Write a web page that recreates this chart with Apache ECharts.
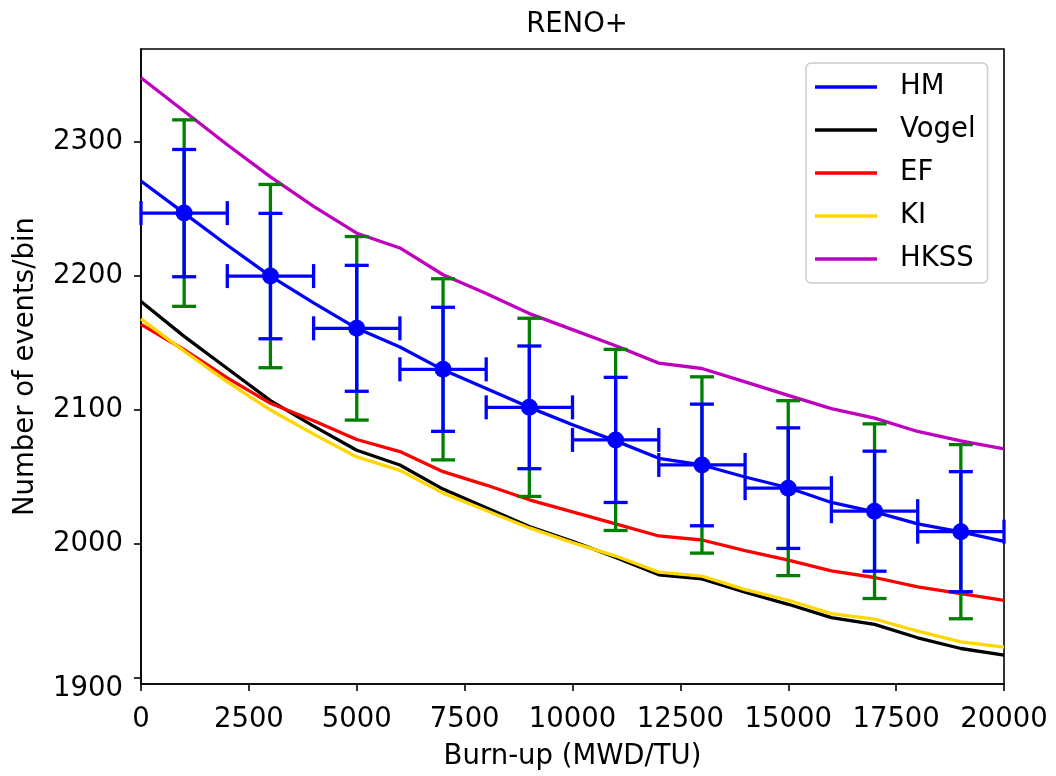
<!DOCTYPE html>
<html>
<head>
<meta charset="utf-8">
<script src="https://cdn.jsdelivr.net/npm/echarts@6/dist/echarts.min.js"></script>
<style>
html,body{margin:0;padding:0;background:#fff;}
#main{width:1056px;height:776px;}
</style>
</head>
<body>
<div id="main"></div>
<script>
// ---- data ----
var burnup = [0,1000,2000,3000,4000,5000,6000,7000,8000,9000,10000,11000,12000,13000,14000,15000,16000,17000,18000,19000,20000];
var hm    = [2271,2247,2223,2200,2180,2161,2147,2130,2116,2102,2089,2077,2064,2059,2050,2042,2031,2024,2015,2009,2002];
var vogel = [2181,2155,2131,2107,2088,2070,2059,2041,2027,2013,2002,1990,1977,1974,1964,1955,1945,1940,1930,1922,1917];
var ef    = [2164,2145,2124,2105,2092,2078,2069,2054,2044,2033,2024,2015,2006,2003,1995,1988,1980,1975,1968,1963,1958];
var ki    = [2168,2144,2121,2100,2082,2065,2055,2038,2025,2012,2001,1991,1979,1976,1966,1958,1948,1944,1935,1927,1923];
var hkss  = [2348,2323,2298,2274,2252,2232,2221,2201,2187,2172,2160,2148,2135,2131,2121,2111,2101,2094,2084,2077,2071];

var binCenters = [1000,3000,5000,7000,9000,11000,13000,15000,17000,19000];
var binHalfWidth = [1000,1000,1000,1000,1000,1000,1000,1000,1000,1000];
var measured  = [2247,2200,2161,2130.4,2102,2077.7,2059,2041.7,2024.5,2009.2];
var statErr   = [47.5,46.8,47.0,46.3,45.8,46.7,45.4,45.0,44.8,44.8];
var totalErr  = [69.6,68.4,68.5,67.6,66.5,67.6,65.8,65.3,65.2,65.0];

var xTicks = [0,2500,5000,7500,10000,12500,15000,17500,20000];
var yTicks = [1900,2000,2100,2200,2300];

var seriesNames = ['HM','Vogel','EF','KI','HKSS'];
var seriesColors = ['#0000ff','#000000','#ff0000','#ffd700','#bf00bf'];
var seriesValues = [hm, vogel, ef, ki, hkss];

// ---- chart ----
var FONT = 'DejaVu Sans';
var FS = 27.5;
var LW = 3.3;
var chart = echarts.init(document.getElementById('main'), null, {renderer:'canvas'});

function pairs(arr){ return burnup.map(function(x,i){ return [x, arr[i]]; }); }

var errData = binCenters.map(function(x,i){ return [x, measured[i], statErr[i], totalErr[i], binHalfWidth[i]]; });

function renderErr(params, api){
  var x = api.value(0), y = api.value(1), s = api.value(2), t = api.value(3), hw = api.value(4);
  var c = api.coord([x,y]);
  var tTop = api.coord([x,y+t]), tBot = api.coord([x,y-t]);
  var sTop = api.coord([x,y+s]), sBot = api.coord([x,y-s]);
  var xl = api.coord([x-hw,y]), xr = api.coord([x+hw,y]);
  var cap = 12, lw = LW;
  var green = '#008000', blue = '#0000ff';
  function ln(x1,y1,x2,y2,col){ return {type:'line', shape:{x1:x1,y1:y1,x2:x2,y2:y2}, style:{stroke:col, lineWidth:lw}}; }
  return {type:'group', children:[
    ln(c[0],tTop[1],c[0],tBot[1],green),
    ln(c[0]-cap,tTop[1],c[0]+cap,tTop[1],green),
    ln(c[0]-cap,tBot[1],c[0]+cap,tBot[1],green),
    ln(c[0],sTop[1],c[0],sBot[1],blue),
    ln(c[0]-cap,sTop[1],c[0]+cap,sTop[1],blue),
    ln(c[0]-cap,sBot[1],c[0]+cap,sBot[1],blue),
    ln(xl[0],c[1],xr[0],c[1],blue),
    ln(xl[0],c[1]-cap,xl[0],c[1]+cap,blue),
    ln(xr[0],c[1]-cap,xr[0],c[1]+cap,blue),
    {type:'circle', shape:{cx:c[0], cy:c[1], r:8.5}, style:{fill:blue}}
  ]};
}

var series = seriesNames.map(function(n,i){
  return {
    name:n, type:'line', data:pairs(seriesValues[i]),
    showSymbol:false, symbol:'none', z: 3,
    lineStyle:{color:seriesColors[i], width:LW}, itemStyle:{color:seriesColors[i]},
    emphasis:{disabled:true}, animation:false
  };
});
series.push({
  name:'data', type:'custom', data:errData, renderItem:renderErr, z:4, animation:false,
  encode:{x:0, y:1}
});

var option = {
  backgroundColor:'#ffffff',
  animation:false,
  textStyle:{fontFamily:FONT},
  title:{text:'RENO+', left:572, textAlign:'center', top:6, textStyle:{fontFamily:FONT, fontSize:FS, fontWeight:'normal', color:'#000'}},
  grid:{left:141, top:49, right:52, bottom:85, show:true, borderColor:'#000', borderWidth:1.6, backgroundColor:'transparent'},
  legend:{
    data:seriesNames, orient:'vertical', left:806, top:63,
    icon:'rect', itemWidth:62, itemHeight:3.3, itemGap:15,
    padding:[10,12,10,9],
    borderColor:'#cccccc', borderWidth:1.5, borderRadius:5, backgroundColor:'#fff',
    textStyle:{fontFamily:FONT, fontSize:FS, color:'#000', lineHeight:27.5, padding:[0,0,0,18]},
    selectedMode:false
  },
  xAxis:{
    type:'value', min:0, max:20000, interval:2500,
    name:'Burn-up (MWD/TU)', nameLocation:'middle', nameGap:59,
    nameTextStyle:{fontFamily:FONT, fontSize:FS, color:'#000'},
    axisLine:{show:true, lineStyle:{color:'#000', width:1.6}},
    axisTick:{show:true, inside:false, length:7, lineStyle:{color:'#000', width:1.6}},
    axisLabel:{fontFamily:FONT, fontSize:FS, color:'#000', margin:22, showMinLabel:true, showMaxLabel:true,
      formatter:function(v){ return xTicks.indexOf(v)>=0 ? String(v) : ''; }},
    splitLine:{show:false}
  },
  yAxis:{
    type:'value', min:1895.5, max:2369.5,
    name:'Number of events/bin', nameLocation:'middle', nameGap:101,
    nameTextStyle:{fontFamily:FONT, fontSize:FS, color:'#000'},
    axisLine:{show:true, lineStyle:{color:'#000', width:1.6}},
    axisTick:{show:true, inside:false, length:7, lineStyle:{color:'#000', width:1.6}, customValues:yTicks},
    axisLabel:{fontFamily:FONT, fontSize:FS, color:'#000', margin:18, customValues:yTicks,
      verticalAlign:'middle',
      formatter:function(v){ var s = String(Math.round(v)); return Math.round(v) === yTicks[0] ? '{lo|' + s + '}' : s; },
      rich:{lo:{fontFamily:FONT, fontSize:FS, color:'#000', padding:[22,0,0,0]}}},
    splitLine:{show:false}
  },
  series:series
};
chart.setOption(option);
</script>
</body>
</html>
